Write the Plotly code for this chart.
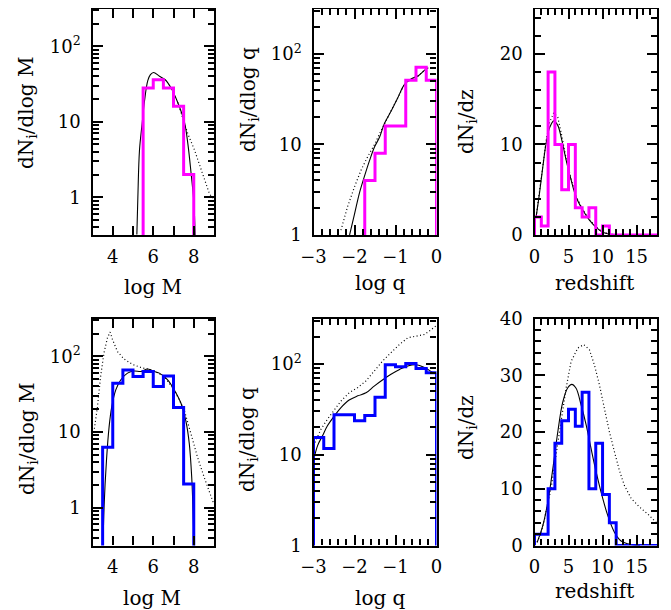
import plotly.graph_objects as go

# ---------------- data ----------------
# Panel 1 : top-left, dN/dlog M (magenta histogram)
p1_edges = [5.5, 6.0, 6.5, 7.0, 7.5, 8.0]
p1_counts = [28, 36, 28, 16, 2.0]
p1_solid_x = [5.19, 5.24, 5.32, 5.45, 5.57, 5.73, 5.86, 6.01, 6.31, 6.59, 6.88, 7.21, 7.54, 7.71, 7.87, 8.0, 8.07]
p1_solid_y = [0.32, 1.0, 4.2, 9.4, 19, 35, 42, 45, 40, 36, 28, 18, 9.9, 5.1, 2.06, 0.9, 0.3]
p1_dot_x = [7.21, 7.54, 7.71, 8.04, 8.36, 8.78, 9.0]
p1_dot_y = [18, 9.9, 6.9, 4.2, 2.3, 1.1, 0.95]

# Panel 2 : top-middle, dN/dlog q
p2_edges = [-1.75, -1.5, -1.25, -1.0, -0.75, -0.5, -0.25, 0.0]
p2_counts = [4, 8, 16, 16, 51, 71, 51]
p2_solid_x = [-2.12, -2.0, -1.88, -1.76, -1.63, -1.51, -1.39, -1.27, -1.1, -0.94, -0.78, -0.61, -0.45, -0.29, -0.2]
p2_solid_y = [1.0, 1.7, 2.9, 4.4, 6.7, 9.4, 12, 17, 23.6, 33, 46, 53, 57, 66, 70]
p2_dot_x = [-2.33, -2.17, -2.0, -1.84, -1.68, -1.51, -1.35, -1.19, -1.1, -0.94, -0.78, -0.61, -0.45, -0.29, -0.2]
p2_dot_y = [1.13, 2.05, 3.4, 5.2, 7.3, 10, 14.3, 20, 23.6, 33, 46, 53, 57, 66, 70]

# Panel 3 : top-right, dN/dz
p3_edges = list(range(0, 19))
p3_counts = [2, 1, 18, 10, 5, 10, 3, 2, 3, 0, 1, 0, 0, 0, 0, 0, 0, 0]
p3_solid_x = [0.24, 0.73, 1.22, 1.7, 2.2, 2.83, 3.42, 3.91, 4.64, 5.37, 6.11, 7.09, 8.07, 9.05, 10.03, 11.25, 12.2]
p3_solid_y = [2.0, 4.6, 7.5, 10.1, 11.8, 12.6, 12.1, 10.8, 8.3, 6.1, 4.2, 2.76, 1.65, 0.85, 0.29, 0.07, 0.0]
p3_dot_x = [0.24, 0.73, 1.22, 1.7, 2.2, 2.83, 3.42, 3.91, 4.64, 5.37, 6.11, 7.09, 8.07, 9.05, 10.03, 11.25, 12.2]
p3_dot_y = [2.0, 4.6, 7.6, 10.4, 12.4, 13.5, 13.0, 11.3, 8.5, 6.2, 4.3, 2.8, 1.7, 0.9, 0.32, 0.08, 0.0]

# Panel 4 : bottom-left, dN/dlog M (blue histogram)
p4_edges = [3.5, 4.0, 4.5, 5.0, 5.5, 6.0, 6.5, 7.0, 7.5, 8.0]
p4_counts = [6.3, 44, 66, 54, 63, 40, 55, 21, 2.05]
p4_solid_x = [3.52, 3.57, 3.69, 3.82, 3.95, 4.15, 4.4, 4.73, 5.06, 5.39, 5.72, 5.97, 6.3, 6.71, 7.04, 7.37, 7.61, 7.78, 7.9, 7.96, 8.02]
p4_solid_y = [0.32, 1.0, 4.2, 11.7, 21.5, 36, 49, 60, 64, 63, 68, 64, 60, 49, 36, 24, 14, 7, 2.5, 1.0, 0.3]
p4_dot_x = [3.0, 3.08, 3.24, 3.4, 3.57, 3.74, 3.87, 3.99, 4.23, 4.56, 4.98, 5.47, 5.97, 6.54, 7.04, 7.53, 7.86, 8.19, 8.52, 8.93, 9.0]
p4_dot_y = [9.0, 10.5, 21, 54, 112, 176, 209, 166, 116, 92, 78, 70, 66, 54, 36, 19.5, 9.5, 4.6, 2.5, 1.2, 1.1]

# Panel 5 : bottom-middle, dN/dlog q
p5_edges = [-3.0, -2.75, -2.5, -2.25, -2.0, -1.75, -1.5, -1.25, -1.0, -0.75, -0.5, -0.25, 0.0]
p5_counts = [15.5, 11.7, 27.5, 27.5, 23.6, 27, 43, 98, 93, 101, 89, 80]
p5_solid_x = [-3.0, -2.9, -2.78, -2.66, -2.49, -2.33, -2.13, -1.92, -1.72, -1.52, -1.31, -1.11, -0.9, -0.7, -0.49, -0.29, -0.08, 0.0]
p5_solid_y = [8.6, 12.6, 16.2, 20.8, 26.8, 33, 40, 44.5, 48, 57, 67, 77, 87, 95, 98, 91, 80, 78]
p5_dot_x = [-3.0, -2.82, -2.66, -2.49, -2.33, -2.13, -1.92, -1.72, -1.52, -1.31, -1.11, -0.9, -0.7, -0.49, -0.29, -0.12, 0.0]
p5_dot_y = [12.6, 19, 24.6, 31.7, 39, 48, 55, 65, 84, 108, 133, 164, 194, 203, 211, 240, 265]

# Panel 6 : bottom-right, dN/dz
p6_edges = list(range(0, 19))
p6_counts = [2, 2, 10, 18, 22, 24, 21, 27, 10, 18, 9, 4, 0, 0, 0, 0, 0, 0]
p6_solid_x = [0.38, 1.22, 1.95, 2.69, 3.42, 4.16, 4.89, 5.48, 6.11, 6.84, 7.58, 8.31, 9.05, 9.78, 10.76, 11.74, 12.72, 13.7, 14.7, 15.5]
p6_solid_y = [0.53, 3.5, 7.6, 13.5, 20, 25.3, 27.8, 28.4, 27.7, 24.8, 21.3, 17.1, 13, 9.4, 5.3, 2.35, 0.8, 0.3, 0.05, 0.0]
p6_dot_x = [0.38, 1.0, 1.47, 2.44, 3.17, 3.9, 4.64, 5.37, 6.36, 7.24, 8.07, 8.81, 9.54, 10.28, 11.01, 11.75, 12.48, 13.2, 14.2, 15.4, 16.6, 17.86, 18.0]
p6_dot_y = [0.6, 2.3, 4.7, 10.1, 16, 21.8, 27.7, 32.4, 34.8, 35.4, 34.5, 31.8, 28.3, 24.1, 20, 16.5, 13.2, 10.6, 8.3, 6.8, 5.6, 4.1, 3.9]

# tick labels
log_tickvals = [1, 10, 100]
log_ticktext = ["1", "10", "10<sup>2</sup>"]
log_minor = [0.4, 0.5, 0.6, 0.7, 0.8, 0.9, 2, 3, 4, 5, 6, 7, 8, 9,
             20, 30, 40, 50, 60, 70, 80, 90, 200, 300]

x_titles = ["log M", "log q", "redshift", "log M", "log q", "redshift"]
y_titles = ["dN<sub>i</sub>/dlog M", "dN<sub>i</sub>/dlog q", "dN<sub>i</sub>/dz",
            "dN<sub>i</sub>/dlog M", "dN<sub>i</sub>/dlog q", "dN<sub>i</sub>/dz"]

MAGENTA = "#ff00ff"
BLUE = "#0000ff"
FONT = "DejaVu Serif"
OFF = 8                      # page body margin of the html page
W, H = 671 - OFF, 610 - OFF  # figure size so that window pixels match


def step_xy(edges, counts, floor):
    xs, ys = [edges[0]], [floor]
    for i, c in enumerate(counts):
        xs += [edges[i], edges[i + 1]]
        ys += [c, c]
    xs.append(edges[-1])
    ys.append(floor)
    return xs, ys


panels = [
    dict(edges=p1_edges, counts=p1_counts, sx=p1_solid_x, sy=p1_solid_y, dx=p1_dot_x, dy=p1_dot_y, color=MAGENTA, kind="logM"),
    dict(edges=p2_edges, counts=p2_counts, sx=p2_solid_x, sy=p2_solid_y, dx=p2_dot_x, dy=p2_dot_y, color=MAGENTA, kind="logq"),
    dict(edges=p3_edges, counts=p3_counts, sx=p3_solid_x, sy=p3_solid_y, dx=p3_dot_x, dy=p3_dot_y, color=MAGENTA, kind="z1"),
    dict(edges=p4_edges, counts=p4_counts, sx=p4_solid_x, sy=p4_solid_y, dx=p4_dot_x, dy=p4_dot_y, color=BLUE, kind="logM"),
    dict(edges=p5_edges, counts=p5_counts, sx=p5_solid_x, sy=p5_solid_y, dx=p5_dot_x, dy=p5_dot_y, color=BLUE, kind="logq"),
    dict(edges=p6_edges, counts=p6_counts, sx=p6_solid_x, sy=p6_solid_y, dx=p6_dot_x, dy=p6_dot_y, color=BLUE, kind="z2"),
]

# panel boxes in window pixels: (left, right), (top, bottom)
col_px = [(92.5, 214), (313.5, 436.5), (534.5, 657)]
row_px = [(8.5, 235), (318.5, 545.5)]

# title positions in window pixels
ytitle_pos = [(27, 113), (249, 100), (467, 122), (28, 439), (248, 440), (467, 428)]
xtitle_pos = [(153, 287), (380, 283), (594, 283), (152, 598), (380, 598), (594, 591)]


def px_x(v):
    return min(1.0, max(0.0, (v - OFF) / W))


def px_y(v):
    return min(1.0, max(0.0, 1 - (v - OFF) / H))


TICK = dict(ticks="inside", tickcolor="black", tickwidth=1.8)

fig = go.Figure()
layout = dict(template="none", width=W, height=H, margin=dict(l=0, r=0, t=0, b=0, pad=0),
              paper_bgcolor="white", plot_bgcolor="white", showlegend=False,
              annotations=[])

for i, p in enumerate(panels):
    r, c = divmod(i, 3)
    xa = "xaxis" if i == 0 else f"xaxis{i+1}"
    ya = "yaxis" if i == 0 else f"yaxis{i+1}"
    xref = "x" if i == 0 else f"x{i+1}"
    yref = "y" if i == 0 else f"y{i+1}"
    is_log = p["kind"] in ("logM", "logq")
    floor = 1e-3 if is_log else 0

    hx, hy = step_xy(p["edges"], p["counts"], floor)
    fig.add_trace(go.Scatter(x=p["dx"], y=p["dy"], mode="lines", xaxis=xref, yaxis=yref,
                             line=dict(color="black", width=1.2, dash="1px,2.5px")))
    fig.add_trace(go.Scatter(x=p["sx"], y=p["sy"], mode="lines", xaxis=xref, yaxis=yref,
                             line=dict(color="black", width=1.1, shape="spline")))
    fig.add_trace(go.Scatter(x=hx, y=hy, mode="lines", xaxis=xref, yaxis=yref,
                             line=dict(color=p["color"], width=3)))

    l, rr = col_px[c]
    t, b = row_px[r]
    common = dict(showline=True, linecolor="black", linewidth=2.4, mirror="allticks",
                  showgrid=False, zeroline=False, automargin=False,
                  tickfont=dict(family=FONT, size=18, color="black"), **TICK)
    xdict = dict(common, domain=[px_x(l), px_x(rr)], anchor=yref, ticklabelstandoff=4)
    ydict = dict(common, domain=[px_y(b), px_y(t)], anchor=xref, ticklabelstandoff=6)

    if p["kind"] == "logM":
        xdict.update(range=[3, 9], tickmode="array", tickvals=[4, 6, 8], ticklen=9,
                     minor=dict(tickmode="array", tickvals=[3, 5, 7, 9], ticklen=9, **TICK))
    elif p["kind"] == "logq":
        xdict.update(range=[-3, 0], tickmode="array", tickvals=[-3, -2, -1, 0],
                     ticktext=["\u22123", "\u22122", "\u22121", "0"], ticklen=10,
                     minor=dict(dtick=0.2, tick0=0, ticklen=6, **TICK))
    else:
        xdict.update(range=[0, 18], tickmode="array", tickvals=[0, 5, 10, 15], ticklen=10,
                     minor=dict(dtick=1, tick0=0, ticklen=6, **TICK))

    if is_log:
        ydict.update(type="log", range=[-0.5, 2.5] if p["kind"] == "logM" else [0, 2.5],
                     tickmode="array", tickvals=log_tickvals, ticktext=log_ticktext, ticklen=10,
                     minor=dict(tickmode="array", tickvals=log_minor, ticklen=6, **TICK))
    elif p["kind"] == "z1":
        ydict.update(range=[0, 25], tickmode="array", tickvals=[0, 10, 20], ticklen=10,
                     minor=dict(dtick=2, tick0=0, ticklen=6, **TICK))
    else:
        ydict.update(range=[0, 40], tickmode="array", tickvals=[0, 10, 20, 30, 40], ticklen=10,
                     minor=dict(dtick=2, tick0=0, ticklen=6, **TICK))

    layout[xa] = xdict
    layout[ya] = ydict

    yx, yy = ytitle_pos[i]
    layout["annotations"].append(dict(text=y_titles[i], x=px_x(yx), y=px_y(yy), xref="paper", yref="paper",
                                      textangle=-90, showarrow=False, xanchor="center", yanchor="middle",
                                      font=dict(family=FONT, size=20, color="black")))
    tx, ty = xtitle_pos[i]
    layout["annotations"].append(dict(text=x_titles[i], x=px_x(tx), y=px_y(ty), xref="paper", yref="paper",
                                      showarrow=False, xanchor="center", yanchor="middle",
                                      font=dict(family=FONT, size=20, color="black")))

fig.update_layout(**layout)
fig.write_html("out.html")
